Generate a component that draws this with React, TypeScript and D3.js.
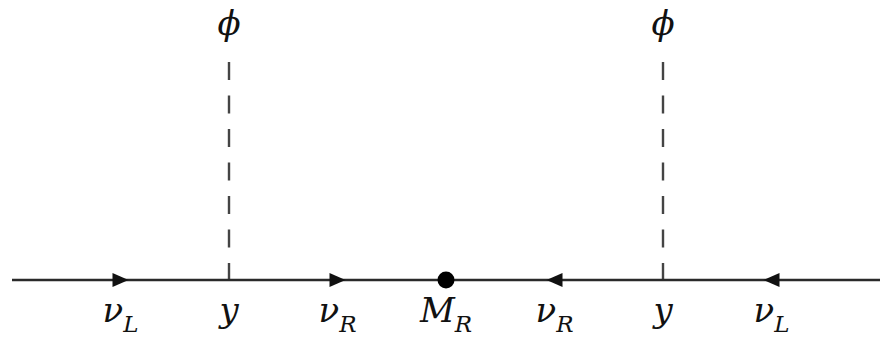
import React, { useEffect, useRef } from "react";
import * as d3 from "d3";

// positions along the fermion line, in diagram units
const lineExtent = [0, 4];
const vertices = [1, 3];
const massInsertion = [2];
const arrows = [
  { at: 0.5, dir: 1 },
  { at: 1.5, dir: 1 },
  { at: 2.5, dir: -1 },
  { at: 3.5, dir: -1 },
];
const bottomLabels = [
  { at: 0.5, main: "ν", sub: "L" },
  { at: 1, main: "y", sub: "" },
  { at: 1.5, main: "ν", sub: "R" },
  { at: 2, main: "M", sub: "R" },
  { at: 2.5, main: "ν", sub: "R" },
  { at: 3, main: "y", sub: "" },
  { at: 3.5, main: "ν", sub: "L" },
];
const scalarLabel = "ϕ";

const W = 886;
const H = 343;

const App = () => {
  const ref = useRef<HTMLDivElement>(null);

  useEffect(() => {
    const container = ref.current;
    if (!container) return;
    container.innerHTML = "";
    document.body.style.margin = "0";

    const x = d3.scaleLinear().domain(lineExtent).range([12, 880]);
    const y = d3.scaleLinear().domain([0, 1]).range([280, 62]);

    const svg = d3.create("svg")
      .attr("width", W)
      .attr("height", H)
      .attr("style", "display: block; background: white;");

    // scalar (dashed) lines
    svg.append("g")
      .selectAll("line")
      .data(vertices)
      .join("line")
      .attr("x1", d => x(d))
      .attr("x2", d => x(d))
      .attr("y1", y(1))
      .attr("y2", y(0))
      .attr("stroke", "#444")
      .attr("stroke-width", 2.4)
      .attr("stroke-dasharray", "18 15.5");

    // fermion line
    svg.append("line")
      .attr("x1", x(lineExtent[0]))
      .attr("x2", x(lineExtent[1]))
      .attr("y1", y(0))
      .attr("y2", y(0))
      .attr("stroke", "#2a2a2a")
      .attr("stroke-width", 2.4);

    // arrows
    svg.append("g")
      .selectAll("path")
      .data(arrows)
      .join("path")
      .attr("transform", d => `translate(${x(d.at)},${y(0)}) scale(${d.dir},1)`)
      .attr("d", "M-8,-7 L8,0 L-8,7 Z")
      .attr("fill", "#111");

    // mass insertion
    svg.append("g")
      .selectAll("circle")
      .data(massInsertion)
      .join("circle")
      .attr("cx", d => x(d))
      .attr("cy", y(0))
      .attr("r", 8.5)
      .attr("fill", "#000");

    const font = "'DejaVu Serif', 'Liberation Serif', serif";

    // phi labels
    svg.append("g")
      .selectAll("text")
      .data(vertices)
      .join("text")
      .attr("x", d => x(d))
      .attr("y", 35)
      .attr("text-anchor", "middle")
      .attr("font-family", font)
      .attr("font-style", "italic")
      .attr("font-size", 34)
      .attr("fill", "#111")
      .text(scalarLabel);

    // bottom labels
    const lab = svg.append("g")
      .selectAll("text")
      .data(bottomLabels)
      .join("text")
      .attr("x", d => x(d.at))
      .attr("y", 322)
      .attr("text-anchor", "middle")
      .attr("font-family", font)
      .attr("font-style", "italic")
      .attr("font-size", 34)
      .attr("fill", "#111");

    lab.append("tspan").text(d => d.main);
    lab.append("tspan")
      .attr("dy", 10)
      .attr("font-size", 23)
      .text(d => d.sub);

    container.appendChild(svg.node()!);
  }, []);

  return <div ref={ref} />;
};

export default App;
